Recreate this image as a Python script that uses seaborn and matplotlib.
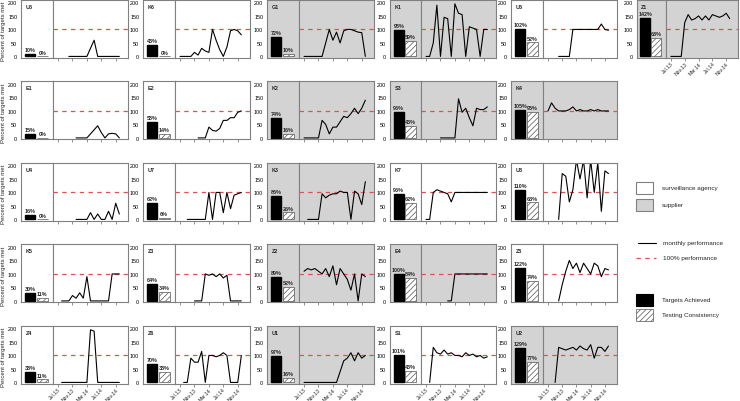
import numpy as np
import matplotlib
matplotlib.use("Agg")
import matplotlib.pyplot as plt
import seaborn as sns
from matplotlib.patches import Rectangle
from matplotlib.lines import Line2D

sns.set_theme(style="white")
plt.rcParams['font.family'] = ['Liberation Sans', 'DejaVu Sans']
plt.rcParams['hatch.linewidth'] = 0.5

n = np.nan

# months Jul.13 .. Dec.14 (index 0..17)
months = list(range(18))
month_ticks = [0, 4, 8, 12, 16]
month_labels = ["Jul.13", "Nov.13", "Mar.14", "Jul.14", "Nov.14"]

# panel layout (rows of panel names)
layout = [
    ["U5", "K6", "G1", "K1", "U6", "Z1"],
    ["E1", "E2", "K2", "S3", "K4"],
    ["U4", "U7", "K3", "K7", "U3"],
    ["K5", "Z3", "Z2", "E4", "Z5"],
    ["Z4", "Z6", "U1", "S1", "U2"],
]
suppliers = ["G1", "K1", "Z1", "K2", "S3", "K4", "K3", "Z2", "E4", "U1", "U2"]

# bars: percent targets achieved / testing consistency
targets = {"U5": 10, "K6": 43, "G1": 72, "K1": 98, "U6": 102, "Z1": 142,
           "E1": 15, "E2": 58, "K2": 74, "S3": 96, "K4": 105,
           "U4": 16, "U7": 62, "K3": 86, "K7": 96, "U3": 110,
           "K5": 30, "Z3": 64, "Z2": 89, "E4": 100, "Z5": 122,
           "Z4": 38, "Z6": 70, "U1": 97, "S1": 101, "U2": 129}
testing = {"U5": 0, "K6": 0, "G1": 10, "K1": 59, "U6": 52, "Z1": 68,
           "E1": 0, "E2": 14, "K2": 16, "S3": 43, "K4": 95,
           "U4": 0, "U7": 6, "K3": 26, "K7": 62, "U3": 63,
           "K5": 11, "Z3": 34, "Z2": 52, "E4": 84, "Z5": 74,
           "Z4": 11, "Z6": 38, "U1": 16, "S1": 43, "U2": 77}

# monthly performance
u5 = [n, n, n, 0, 0, 0, 0, 0, 0, 30, 60, 0, 0, 0, 0, 0, 0, 0]
k6 = [0, 0, 0, 0, 15, 5, 30, 20, 15, 100, 60, 25, 0, 35, 95, 100, 95, 80]
g1 = [0, 0, 0, 0, 0, 0, 50, 100, 60, 90, 50, 95, 100, 100, 95, 90, 88, 0]
k1 = [0, 0, 50, 190, 0, 145, 140, 0, 195, 160, 155, 0, 110, 105, 100, 0, 100, 100]
u6 = [n, n, n, 0, 0, 0, 0, 100, 100, 100, 100, 100, 100, 100, 100, 120, 100, 97]
z1 = [0, 0, 0, 0, 125, 155, 135, 140, 150, 135, 150, 135, 155, 150, 145, 150, 160, 140]
e1 = [n, n, n, n, n, 0, 0, 0, 0, 15, 30, 45, 20, 0, 15, 17, 15, 0]
e2 = [n, n, n, n, n, 0, 0, 0, 40, 28, 25, 35, 65, 65, 75, 75, 95, 100]
k2 = [0, 0, 0, 0, 0, 65, 50, 15, 40, 40, 60, 80, 75, 90, 110, 90, 110, 140]
s3 = [n, n, n, n, 0, 0, 0, 0, 0, 145, 95, 110, 75, 45, 110, 105, 105, 115]
k4 = [100, 130, 110, 100, 100, 100, 105, 115, 100, 105, 100, 100, 105, 100, 105, 100, 100, 100]
u4 = [n, n, n, n, n, 0, 0, 0, 0, 25, 0, 20, 0, 0, 30, 0, 60, 20]
u7 = [n, n, 0, 0, 0, 0, 0, 0, 100, 0, 100, 100, 25, 100, 40, 90, 95, 100]
k3 = [n, 0, 0, 0, 0, 95, 80, 90, 95, 95, 105, 100, 100, 0, 105, 95, 55, 140]
k7 = [0, 0, 100, 110, 105, 100, 95, 65, 100, 100, 100, 100, 100, 100, 100, 100, 100, 100]
u3 = [n, n, n, 0, 170, 160, 65, 110, 220, 150, 220, 80, 220, 100, 210, 30, 180, 170]
k5 = [n, 0, 0, 0, 20, 10, 30, 10, 90, 0, 0, 0, 0, 0, 0, 100, 100, 100]
z3 = [n, n, n, n, 0, 0, 0, 100, 95, 100, 90, 100, 85, 95, 0, 0, 0, 0]
z2 = [110, 120, 115, 120, 110, 100, 120, 90, 130, 60, 120, 100, 80, 40, 100, 0, 100, 90]
e4 = [n, n, n, n, n, n, 0, 0, 100, 100, 100, 100, 100, 100, 100, 100, 100, 100]
z5 = [n, n, n, 0, 60, 110, 150, 120, 140, 105, 140, 120, 100, 140, 130, 90, 120, 115]
z4 = [n, 0, 0, 0, 0, 0, 0, 0, 0, 195, 190, 0, 0, 0, 0, 0, 0, 0]
z6 = [n, 0, 0, 90, 75, 75, 115, 0, 100, 100, 95, 100, 110, 100, 0, 0, 0, 100]
u1 = [0, 0, 0, 0, 0, 0, 0, 0, 0, 0, 40, 80, 90, 110, 80, 110, 90, 100]
s1 = [n, 0, 130, 110, 105, 120, 105, 110, 100, 100, 95, 110, 100, 105, 95, 100, 90, 95]
u2 = [n, n, 0, 130, 125, 120, 125, 130, 120, 135, 125, 120, 140, 90, 130, 130, 115, 135]

perf = {"U5": u5, "K6": k6, "G1": g1, "K1": k1, "U6": u6, "Z1": z1,
        "E1": e1, "E2": e2, "K2": k2, "S3": s3, "K4": k4,
        "U4": u4, "U7": u7, "K3": k3, "K7": k7, "U3": u3,
        "K5": k5, "Z3": z3, "Z2": z2, "E4": e4, "Z5": z5,
        "Z4": z4, "Z6": z6, "U1": u1, "S1": s1, "U2": u2}

W, H = 740, 402
GREY_BG = "#d3d3d3"
SPINE = "#808080"
FS = 3.9

# panel geometry in pixels
col_left = [21, 143, 267, 390, 511, 637]
bar_w = [32, 32, 32, 31, 32, 29]
line_w = [75, 75, 75, 75, 74, 72]


def px(x, y, w, h):
    return [x / W, 1 - (y + h) / H, w / W, h / H]


fig = plt.figure(figsize=(W / 100, H / 100), dpi=100)

for r, row in enumerate(layout):
    y0 = 0.5 + 81.5 * r
    fig.text(3.6 / W, 1 - (y0 + 31) / H, "Percent of targets met", rotation=90,
             fontsize=4.3, ha="center", va="center")
    for c, name in enumerate(row):
        x0 = col_left[c]
        bg = GREY_BG if name in suppliers else "white"
        show_x = (r == len(layout) - 1) or (r == 0 and c == 5)

        # bar part
        axb = fig.add_axes(px(x0, y0, bar_w[c], 58))
        sns.barplot(x=["Targets Achieved", "Testing Consistency"],
                    y=[targets[name], testing[name]], ax=axb,
                    width=0.9, saturation=1)
        p0, p1 = axb.patches[0], axb.patches[1]
        p0.set_facecolor("black")
        p0.set_edgecolor("black")
        p1.set_facecolor("white")
        p1.set_edgecolor("#555555")
        p1.set_hatch("//////")
        p1.set_linewidth(0.5)
        axb.set_facecolor(bg)
        axb.set_xlim(-0.75, 1.9)
        axb.set_ylim(-4, 211)
        axb.set_yticks([0, 50, 100, 150, 200])
        axb.set_xticks([])
        axb.set_xlabel("")
        axb.set_ylabel("")
        axb.tick_params(axis="y", labelsize=FS, length=1.2, pad=1.5, colors="black")
        for s in axb.spines.values():
            s.set_color(SPINE)
            s.set_linewidth(0.8)
        vals = [targets[name], testing[name]]
        for i, v in enumerate(vals):
            axb.text(i, v + 7, f"{v}%", ha="center", va="bottom",
                     fontsize=FS, fontweight="bold")
        axb.text(0.15, 0.93, name, transform=axb.transAxes, ha="left",
                 va="top", fontsize=FS, fontweight="bold")

        # line part
        axl = fig.add_axes(px(x0 + bar_w[c], y0, line_w[c], 58))
        axl.set_facecolor(bg)
        axl.axhline(100, color="#e0504f", lw=0.9, ls=(0, (3.5, 3.5)))
        sns.lineplot(x=months, y=perf[name], ax=axl, color="black", lw=0.8)
        axl.set_xlim(-1.4, 19.4)
        axl.set_ylim(-4, 211)
        axl.set_yticks([])
        axl.set_xticks(month_ticks)
        axl.tick_params(axis="x", length=2.0, width=0.6, color=SPINE,
                        direction="out", bottom=True, pad=0.3)
        if show_x:
            axl.set_xticklabels(month_labels, rotation=45, ha="right",
                                rotation_mode="anchor", fontsize=3.7)
        else:
            axl.set_xticklabels([])
        axl.set_xlabel("")
        axl.set_ylabel("")
        for s in axl.spines.values():
            s.set_color(SPINE)
            s.set_linewidth(0.8)

# legend drawn in pixel coordinates
axg = fig.add_axes([0, 0, 1, 1], zorder=-1)
axg.set_xlim(0, W)
axg.set_ylim(H, 0)
axg.axis("off")
axg.add_patch(Rectangle((636, 183), 17, 12, facecolor="white", edgecolor=SPINE, lw=0.8))
axg.add_patch(Rectangle((636, 200), 17, 12, facecolor=GREY_BG, edgecolor=SPINE, lw=0.8))
axg.add_line(Line2D([638, 656], [244, 244], color="black", lw=0.8))
axg.add_line(Line2D([636, 656], [259, 259], color="#e0504f", lw=0.9, ls=(0, (3.5, 3.5))))
axg.add_patch(Rectangle((636, 295), 17, 12, facecolor="black", edgecolor="black", lw=0.8))
axg.add_patch(Rectangle((636, 310), 17, 12, facecolor="white", edgecolor="#555555",
                        hatch="//////", lw=0.5))
for ty, txt, tx in [(189, "surveillance agency", 662), (206, "supplier", 662),
                    (244, "monthly performance", 663), (259, "100% performance", 663),
                    (301, "Targets Achieved", 662), (316, "Testing Consistency", 662)]:
    axg.text(tx, ty, txt, fontsize=4.6, va="center", ha="left")

fig.savefig("out.png", dpi=100)
